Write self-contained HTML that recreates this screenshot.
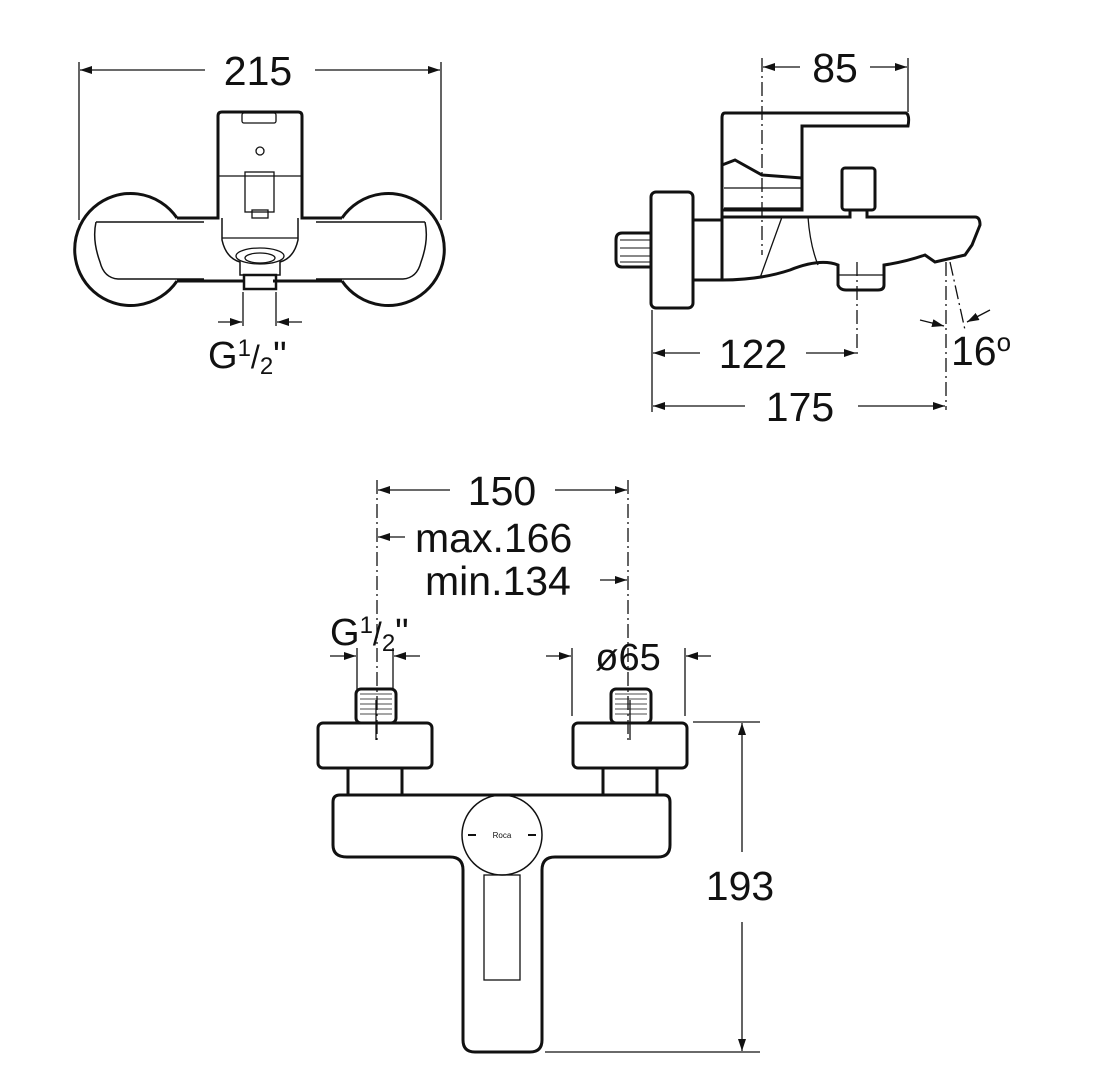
<!DOCTYPE html>
<html><head><meta charset="utf-8"><style>
html,body{margin:0;padding:0;background:#fff}
svg{display:block}
text{font-family:"Liberation Sans",Arial,sans-serif;fill:#111}
</style></head><body>
<svg width="1114" height="1091" viewBox="0 0 1114 1091" xmlns="http://www.w3.org/2000/svg">
<defs>
<marker id="a" viewBox="0 0 12 8" refX="12" refY="4" markerWidth="12" markerHeight="8" orient="auto-start-reverse" markerUnits="userSpaceOnUse"><path d="M0,0 L12,4 L0,8 Z" fill="#111"/></marker>
</defs>
<g stroke="#111" fill="none" stroke-width="1.3">
<!-- ===== top-left view ===== -->
<line x1="79" y1="62" x2="79" y2="220"/><line x1="441" y1="62" x2="441" y2="220"/>
<line x1="80" y1="70" x2="205" y2="70" marker-start="url(#a)"/>
<line x1="315" y1="70" x2="440" y2="70" marker-end="url(#a)"/>
<g stroke-width="3">
<path d="M177,218 A56,56 0 1 0 177,281"/>
<path d="M342,218 A56,56 0 1 1 342,281"/>
<path d="M177,218 L218,218 L218,116 Q218,112 222,112 L298,112 Q302,112 302,116 L302,218 L342,218"/>
<path d="M177,281 L245,281 M273,281 L342,281"/>
</g>
<path d="M96,222 L204,222 M316,222 L425,222 M96,222 Q92,240 100,262 Q104,278 118,279 L204,279 M425,222 Q429,240 421,262 Q417,278 403,279 L316,279" stroke-width="1.5"/>
<rect x="242" y="113" width="34" height="10" rx="2"/>
<circle cx="260" cy="151" r="4"/>
<line x1="219" y1="176" x2="301" y2="176"/>
<rect x="245" y="172" width="29" height="40"/>
<rect x="252" y="210" width="16" height="8"/>
<path d="M222,218 L222,240 Q226,258 240,262 L240,275 L280,275 L280,262 Q294,258 298,240 L298,218" stroke-width="1.5"/>
<line x1="222" y1="238" x2="298" y2="238"/>
<ellipse cx="260" cy="256" rx="24" ry="8"/><ellipse cx="260" cy="258" rx="15" ry="5"/>
<rect x="244" y="275" width="32" height="14" stroke-width="2.5"/>
<line x1="243" y1="292" x2="243" y2="326"/><line x1="276" y1="292" x2="276" y2="326"/>
<line x1="218" y1="322" x2="242" y2="322" marker-end="url(#a)"/>
<line x1="302" y1="322" x2="277" y2="322" marker-end="url(#a)"/>
</g>
<text x="258" y="85" font-size="41" text-anchor="middle">215</text>
<text x="208" y="368" font-size="38">G<tspan font-size="24" dy="-12">1</tspan><tspan font-size="32" dy="12">/</tspan><tspan font-size="24" dy="6">2</tspan><tspan dy="-6">"</tspan></text>

<!-- ===== top-right view ===== -->
<g stroke="#111" fill="none" stroke-width="1.3">
<line x1="762" y1="58" x2="762" y2="255" stroke-dasharray="14,4,2,4"/>
<line x1="908" y1="58" x2="908" y2="112"/>
<line x1="763" y1="67" x2="800" y2="67" marker-start="url(#a)"/>
<line x1="870" y1="67" x2="907" y2="67" marker-end="url(#a)"/>
<g stroke-width="3">
<path d="M725,113 L906,113 Q910,115 908,126 L802,126 L802,210 L722,210 L722,118 Q722,113 725,113 Z"/>
<path d="M722,165 L735,160 L762,175 L802,178"/>
<rect x="651" y="192" width="42" height="116" rx="5"/>
<path d="M650,233 L622,233 Q616,233 616,240 L616,260 Q616,267 622,267 L650,267"/>
<path d="M693,220 L722,220 L722,280 L693,280"/>
<path d="M722,210 L722,280 Q760,280 790,270 Q820,258 838,265 L838,285 Q840,290 846,290 L878,290 Q884,290 884,285 L884,265 Q905,262 925,255 L935,262 L965,255 L972,245 L980,225 Q980,217 975,217 L867,217 L867,210 L850,210 L850,217 L722,217"/>
<rect x="842" y="168" width="33" height="42" rx="3"/>
</g>
<line x1="724" y1="188" x2="802" y2="188"/><line x1="724" y1="208" x2="802" y2="208"/>
<path d="M782,217 Q770,250 760,278"/><path d="M808,217 Q810,245 818,265"/>
<line x1="838" y1="275" x2="884" y2="275"/>
<path d="M620,240 L650,240 M620,248 L650,248 M620,256 L650,256 M620,262 L650,262" stroke-width="1"/>
<line x1="857" y1="262" x2="857" y2="356" stroke-dasharray="14,4,2,4"/>
<line x1="652" y1="310" x2="652" y2="412"/>
<line x1="653" y1="353" x2="700" y2="353" marker-start="url(#a)"/>
<line x1="806" y1="353" x2="856" y2="353" marker-end="url(#a)"/>
<line x1="653" y1="406" x2="745" y2="406" marker-start="url(#a)"/>
<line x1="858" y1="406" x2="945" y2="406" marker-end="url(#a)"/>
<line x1="946" y1="262" x2="946" y2="410" stroke-dasharray="14,4,2,4"/>
<line x1="950" y1="262" x2="965" y2="330" stroke-dasharray="14,4,2,4"/>
<line x1="920" y1="320" x2="944" y2="326" marker-end="url(#a)"/>
<line x1="990" y1="310" x2="967" y2="322" marker-end="url(#a)"/>
</g>
<text x="835" y="82" font-size="41" text-anchor="middle">85</text>
<text x="753" y="368" font-size="41" text-anchor="middle">122</text>
<text x="800" y="421" font-size="41" text-anchor="middle">175</text>
<text x="951" y="365" font-size="41">16<tspan font-size="26" dy="-14">o</tspan></text>

<!-- ===== bottom view ===== -->
<g stroke="#111" fill="none" stroke-width="1.3">
<line x1="377" y1="480" x2="377" y2="740" stroke-dasharray="14,4,2,4"/>
<line x1="628" y1="480" x2="628" y2="740" stroke-dasharray="14,4,2,4"/>
<line x1="378" y1="490" x2="450" y2="490" marker-start="url(#a)"/>
<line x1="555" y1="490" x2="627" y2="490" marker-end="url(#a)"/>
<line x1="378" y1="537" x2="405" y2="537" marker-start="url(#a)"/>
<line x1="600" y1="580" x2="627" y2="580" marker-end="url(#a)"/>
<line x1="357" y1="648" x2="357" y2="690"/><line x1="393" y1="648" x2="393" y2="690"/>
<line x1="330" y1="656" x2="356" y2="656" marker-end="url(#a)"/>
<line x1="420" y1="656" x2="394" y2="656" marker-end="url(#a)"/>
<line x1="572" y1="648" x2="572" y2="716"/><line x1="685" y1="648" x2="685" y2="716"/>
<line x1="546" y1="656" x2="571" y2="656" marker-end="url(#a)"/>
<line x1="711" y1="656" x2="686" y2="656" marker-end="url(#a)"/>
<line x1="693" y1="722" x2="760" y2="722"/>
<line x1="545" y1="1052" x2="760" y2="1052"/>
<line x1="742" y1="852" x2="742" y2="723" marker-end="url(#a)"/>
<line x1="742" y1="922" x2="742" y2="1051" marker-end="url(#a)"/>
<g stroke-width="3">
<rect x="356" y="689" width="40" height="34" rx="5"/>
<rect x="611" y="689" width="40" height="34" rx="5"/>
<rect x="318" y="723" width="114" height="45" rx="5"/>
<rect x="573" y="723" width="114" height="45" rx="5"/>
<rect x="348" y="768" width="54" height="27"/>
<rect x="603" y="768" width="54" height="27"/>
<path d="M340,795 L664,795 Q670,795 670,802 L670,845 Q670,857 658,857 L555,857 Q542,857 542,870 L542,1040 Q542,1052 530,1052 L475,1052 Q463,1052 463,1040 L463,870 Q463,857 450,857 L347,857 Q333,857 333,845 L333,802 Q333,795 340,795 Z"/>
</g>
<path d="M360,694 L392,694 M360,699 L392,699 M360,704 L392,704 M360,709 L392,709 M360,714 L392,714 M615,694 L647,694 M615,699 L647,699 M615,704 L647,704 M615,709 L647,709 M615,714 L647,714" stroke-width="0.8"/>
<line x1="376" y1="700" x2="376" y2="740"/><line x1="630" y1="700" x2="630" y2="740"/>
<circle cx="502" cy="835" r="40" stroke-width="1.5"/>
<rect x="484" y="875" width="36" height="105"/>
<line x1="468" y1="835" x2="476" y2="835" stroke-width="2"/><line x1="528" y1="835" x2="536" y2="835" stroke-width="2"/>
</g>
<text x="502" y="838" font-size="8" text-anchor="middle">Roca</text>
<text x="502" y="505" font-size="41" text-anchor="middle">150</text>
<text x="415" y="552" font-size="41">max.166</text>
<text x="425" y="595" font-size="41">min.134</text>
<text x="330" y="645" font-size="38">G<tspan font-size="24" dy="-12">1</tspan><tspan font-size="32" dy="12">/</tspan><tspan font-size="24" dy="6">2</tspan><tspan dy="-6">"</tspan></text>
<text x="628" y="670" font-size="38" text-anchor="middle">ø65</text>
<text x="740" y="900" font-size="41" text-anchor="middle">193</text>
</svg>
</body></html>
